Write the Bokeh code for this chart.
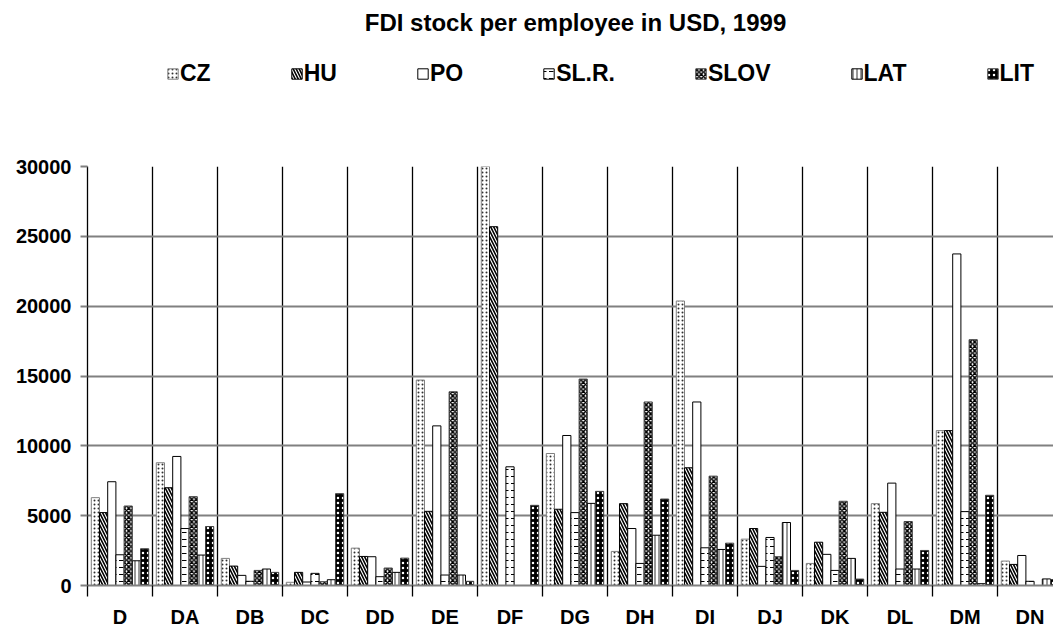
from bokeh.plotting import figure
from bokeh.models import ColumnDataSource, Range1d, FixedTicker, Legend, LegendItem, Label
from bokeh.layouts import column
from bokeh.transform import dodge
from bokeh.embed import file_html
from bokeh.resources import INLINE

categories = ["D", "DA", "DB", "DC", "DD", "DE", "DF", "DG", "DH", "DI", "DJ", "DK", "DL", "DM", "DN"]
series_names = ["CZ", "HU", "PO", "SL.R.", "SLOV", "LAT", "LIT"]

cz   = [6290, 8790, 1940, 230, 2675, 14710, 31000, 9450, 2440, 20370, 3320, 1580, 5860, 11090, 1750]
hu   = [5220, 7000, 1390, 940, 2080, 5310, 25690, 5460, 5860, 8430, 4080, 3100, 5240, 11090, 1510]
po   = [7430, 9240, 725, 250, 2060, 11430, 0, 10740, 4080, 13140, 1370, 2230, 7330, 23740, 2150]
slr  = [2200, 4080, 300, 870, 630, 750, 8500, 5220, 1580, 2700, 3440, 1080, 1180, 5290, 300]
slov = [5690, 6360, 1080, 270, 1250, 13870, 0, 14780, 13140, 7830, 2060, 6030, 4580, 17600, 0]
lat  = [1770, 2180, 1180, 415, 940, 750, 0, 5880, 3600, 2580, 4510, 1940, 1180, 130, 470]
lit  = [2630, 4220, 940, 6575, 1960, 300, 5740, 6740, 6190, 3030, 1080, 460, 2510, 6460, 430]

y_ticks = [0, 5000, 10000, 15000, 20000, 25000, 30000]
title_text = "FDI stock per employee in USD, 1999"

FONT = "Liberation Sans"

cols = ["cz", "hu", "po", "slr", "slov", "lat", "lit"]
source = ColumnDataSource(dict(x=list(range(len(categories))), cz=cz, hu=hu, po=po,
                               slr=slr, slov=slov, lat=lat, lit=lit))

styles = [
    dict(fill_color="white", line_color="#808080", hatch_pattern="dot", hatch_color="#303030", hatch_scale=4, hatch_weight=0.7),
    dict(fill_color="white", line_color="black", hatch_pattern="left_diagonal_line", hatch_color="black", hatch_scale=6, hatch_weight=1.6),
    dict(fill_color="white", line_color="black"),
    dict(fill_color="white", line_color="black", hatch_pattern="horizontal_dash", hatch_color="black", hatch_scale=7, hatch_weight=1.0),
    dict(fill_color="white", line_color="#404040", hatch_pattern="diagonal_cross", hatch_color="black", hatch_scale=4.5, hatch_weight=1.5),
    dict(fill_color="white", line_color="black", hatch_pattern="vertical_line", hatch_color="black", hatch_scale=4, hatch_weight=0.8),
    dict(fill_color="black", line_color="#404040", hatch_pattern="dot", hatch_color="white", hatch_scale=5, hatch_weight=1.8),
]

W = 1053
TOP_H = 150
BOT_H = 630 - TOP_H
LEFT = 87
cat_px = 65.0

# ---------- top: title + legend (frame aligned with the chart below) ----------
top = figure(width=W, height=TOP_H, x_range=Range1d(0, 1), y_range=Range1d(1, 2),
             x_axis_type=None, y_axis_type=None, output_backend="svg", toolbar_location=None,
             min_border_left=LEFT, min_border_right=0, min_border_top=0, min_border_bottom=0)
top.outline_line_color = None
top.xgrid.visible = False
top.ygrid.visible = False

# legend carriers: a zero-height bar outside the visible range
carrier = ColumnDataSource(dict(x=[0.5], top=[0]))
dummies = [top.vbar(x="x", top="top", width=0.01, source=carrier, line_width=1, **st) for st in styles]

top.add_layout(Label(x=575 - LEFT, y=TOP_H - 22, x_units="screen", y_units="screen", text=title_text,
                     text_align="center", text_baseline="middle", text_font=FONT,
                     text_font_style="bold", text_font_size="24px", text_color="black"))

legend = Legend(items=[LegendItem(label=n, renderers=[r]) for n, r in zip(series_names, dummies)],
                orientation="horizontal", location=(167 - LEFT - 1, 63), spacing=79,
                glyph_width=13, glyph_height=13, label_standoff=1, padding=0, margin=0,
                border_line_alpha=0, background_fill_alpha=0,
                label_text_font=FONT, label_text_font_style="bold", label_text_font_size="23px",
                label_text_color="black")
top.add_layout(legend)

# ---------- bottom: bars ----------
frame_w = W - LEFT
p = figure(width=W, height=BOT_H,
           x_range=Range1d(-0.5, -0.5 + frame_w / cat_px),
           y_range=Range1d(0, 30000),
           output_backend="svg", toolbar_location=None,
           min_border_left=LEFT, min_border_right=0, min_border_top=16, min_border_bottom=44)
p.outline_line_color = None

bar_w = 0.1262
for i, (c, st) in enumerate(zip(cols, styles)):
    p.vbar(x=dodge("x", (i - 3) * bar_w, range=p.x_range), top=c, width=bar_w,
           source=source, line_width=1, **st)

p.xgrid.ticker = FixedTicker(ticks=[i - 0.5 for i in range(len(categories) + 1)])
p.xgrid.grid_line_color = "black"
p.xgrid.grid_line_width = 1.3
p.ygrid.ticker = FixedTicker(ticks=y_ticks)
p.ygrid.grid_line_color = "#808080"
p.ygrid.grid_line_width = 2

xa = p.xaxis[0]
xa.ticker = FixedTicker(ticks=list(range(len(categories))),
                        minor_ticks=[i - 0.5 for i in range(len(categories) + 1)])
xa.major_label_overrides = {i: c for i, c in enumerate(categories)}
xa.major_tick_line_color = None
xa.major_tick_out = 0
xa.major_tick_in = 0
xa.minor_tick_out = 11
xa.minor_tick_in = 0
xa.minor_tick_line_color = "black"
xa.minor_tick_line_width = 1.3
xa.axis_line_color = "#808080"
xa.axis_line_width = 2
xa.major_label_standoff = 9
xa.major_label_text_font = FONT
xa.major_label_text_font_style = "bold"
xa.major_label_text_font_size = "20px"
xa.major_label_text_color = "black"

ya = p.yaxis[0]
ya.ticker = FixedTicker(ticks=y_ticks)
ya.major_label_overrides = {t: str(t) for t in y_ticks}
ya.minor_tick_line_color = None
ya.major_tick_out = 7
ya.major_tick_in = 0
ya.major_tick_line_color = "#808080"
ya.major_tick_line_width = 2
ya.axis_line_color = "black"
ya.axis_line_width = 1.3
ya.major_label_standoff = 9
ya.major_label_text_font = FONT
ya.major_label_text_font_style = "bold"
ya.major_label_text_font_size = "20px"
ya.major_label_text_color = "black"

layout = column(top, p, spacing=0)
open("out.html", "w").write(file_html(layout, INLINE))
